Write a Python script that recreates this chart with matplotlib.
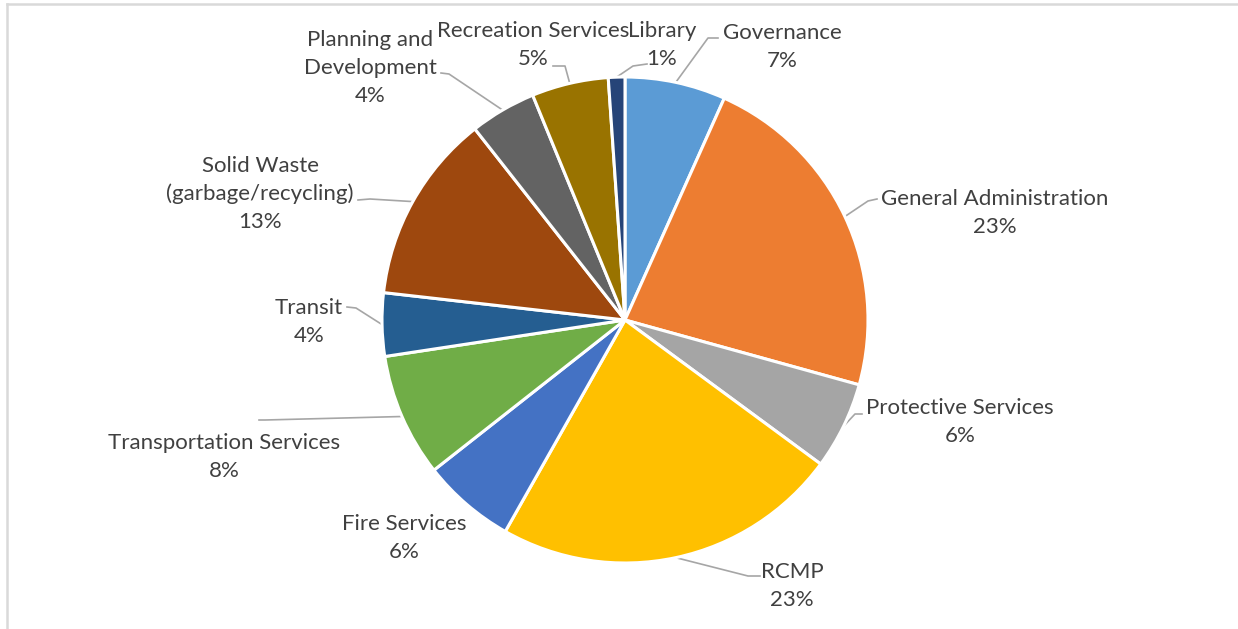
import matplotlib.pyplot as plt
from matplotlib.lines import Line2D
import numpy as np

# budget share by department (clockwise from 12 o'clock)
departments = ['Governance', 'General Administration', 'Protective Services', 'RCMP',
               'Fire Services', 'Transportation Services', 'Transit',
               'Solid Waste\n(garbage/recycling)', 'Planning and\nDevelopment',
               'Recreation Services', 'Library']
shares = [6.7, 22.6, 5.8, 23.1, 6.2, 8.2, 4.2, 12.6, 4.4, 5.1, 1.1]
colors = ['#5B9BD5', '#ED7D31', '#A5A5A5', '#FFC000', '#4472C4', '#70AD47',
          '#255E91', '#9E480E', '#636363', '#997300', '#264478']

W, H = 1238, 629
# label layout in pixel coords: text centre, leader start (None = no leader)
label_pos = [(782, 47), (995, 213), (960, 422), (792, 586), (404, 538), (224, 457),
             (309, 322), (260, 194), (370, 68), (533, 45), (662, 45)]
leader_start = [[(718, 38), (708, 38)], [(877, 199), (868, 201)], [(862, 414), (855, 414)],
                [(760, 576), (748, 576)], None, [(259, 420), (265, 420)],
                [(347, 307), (356, 308)], [(358, 200), (370, 199)], [(441, 73), (449, 74)],
                [(553, 66), (565, 66)], [(647, 64), (633, 66)]]

fig = plt.figure(figsize=(W / 100, H / 100), dpi=100)
ax = fig.add_axes([0, 0, 1, 1])

cx, cy, r = 625, H - 320, 243
wedges, _ = ax.pie(shares, colors=colors, startangle=90, counterclock=False,
                   center=(cx, cy), radius=r, frame=True,
                   wedgeprops=dict(edgecolor='white', linewidth=2.2))
ax.set_xlim(0, W)
ax.set_ylim(0, H)
ax.set_aspect('equal')
ax.axis('off')

for i, w in enumerate(wedges):
    name = departments[i]
    pct = '%d%%' % round(shares[i])
    lx, ly = label_pos[i]
    ax.text(lx, H - ly, name + '\n' + pct, ha='center', va='center',
            fontsize=16, family='Lato', color='#404040', linespacing=1.5)
    if leader_start[i] is not None:
        mid = np.deg2rad((w.theta1 + w.theta2) / 2)
        ex, ey = cx + r * np.cos(mid), cy + r * np.sin(mid)
        pts = [(x, H - y) for x, y in leader_start[i]] + [(ex, ey)]
        xs, ys = zip(*pts)
        ax.plot(xs, ys, color='#A6A6A6', lw=1.2, zorder=0.5)

fig.add_artist(Line2D([7 / W, 7 / W], [0, 1 - 4 / H], color='#D9D9D9', lw=1.8))
fig.add_artist(Line2D([7 / W, 1], [1 - 4 / H, 1 - 4 / H], color='#D9D9D9', lw=1.8))

fig.savefig('out.png', dpi=100)
